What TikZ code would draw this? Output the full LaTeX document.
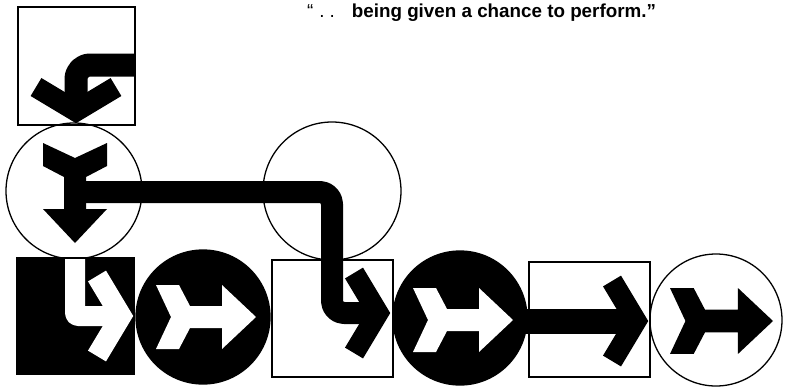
\documentclass[tikz,border=0pt]{standalone}
\usepackage{fontspec}
\setmainfont{Liberation Sans}
\begin{document}
\begin{tikzpicture}[x=1pt,y=-1pt,
  frame/.style={draw=black, line width=1.3pt, inner sep=0pt, outer sep=0pt},
  sq/.style={frame, rectangle},
  rnd/.style={frame, circle},
  bar/.style={line width=#1, line cap=butt, line join=round},
  bar/.default=22pt,
  chev/.pic={\draw[line width=21pt, line cap=butt, line join=miter, miter limit=4] (-36,-40) -- (-12,0) -- (-36,40);},
  fletch/.pic={\fill (0,0) -- (-34,-32) -- (-34,-11) -- (-66,-11) -- (-77,-32) -- (-100,-32) -- (-85,0) -- (-100,32) -- (-77,32) -- (-66,11) -- (-34,11) -- (-34,32) -- cycle;},
]
\useasboundingbox (0,0) rectangle (785,386);

% frames
\node[sq, minimum width=117pt, minimum height=118pt] (s1) at (76.5,66) {};
\node[sq, fill=black, minimum width=117pt, minimum height=116pt] (sb) at (75.5,316) {};
\node[sq, minimum width=121pt, minimum height=117pt] (s2) at (332.5,318.5) {};
\node[sq, minimum width=121pt, minimum height=115pt] (s3) at (589.5,319.5) {};

\node[rnd, minimum size=136pt] (c1) at (74,191) {};
\node[rnd, minimum size=138pt] (cm) at (332,191) {};
\node[rnd, fill=black, minimum size=134pt] (c2) at (203,317) {};
\node[rnd, fill=black, minimum size=134pt] (c3) at (460,318) {};
\node[rnd, minimum size=132pt] (c4) at (716,320) {};

% path coordinates
\coordinate (a1) at (135,65);
\coordinate (a2) at (76,112);
\coordinate (a3) at (76,123);
\coordinate (b1) at (76,192);
\coordinate (b2) at (332,192);
\coordinate (b3) at (332,313);
\coordinate (b4) at (379,313);
\coordinate (b5) at (390,313);
\coordinate (w1) at (75,259);
\coordinate (w2) at (75,316);
\coordinate (w3) at (122,316);
\coordinate (w4) at (133,316);
\coordinate (d1) at (520,321);
\coordinate (d2) at (637,321);
\coordinate (d3) at (648,321);

% top square arrow
\draw[bar=23pt, rounded corners=14pt] (a1) -| (a2);
\pic[rotate=-90] at (a3) {chev};

% long arrow
\draw[bar, rounded corners=12pt] (b1) -- (b2) -- (b3) -- (b4);
\pic at (b5) {chev};

% white arrow in black square
\draw[bar=20pt, white, rounded corners=3pt] (w1) -- (w2) -- (w3);
\pic[white] at (w4) {chev};

% arrow in square 3
\draw[bar=25pt] (d1) -- (d2);
\pic at (d3) {chev};

% fletched arrows
\pic[rotate=-90] at (75,243) {fletch};
\pic[white] at (256,317) {fletch};
\pic[white] at (513,320) {fletch};
\pic[scale=1.03] at (773,321) {fletch};

% caption
\node[anchor=base west, inner sep=0pt, font=\fontsize{18.8pt}{21pt}\selectfont] (cap) at (307,17)
  {“\hspace{6pt}.\hspace{5pt}.\hspace{17pt}\textbf{being given a chance to perform.”}};
\end{tikzpicture}
\end{document}
